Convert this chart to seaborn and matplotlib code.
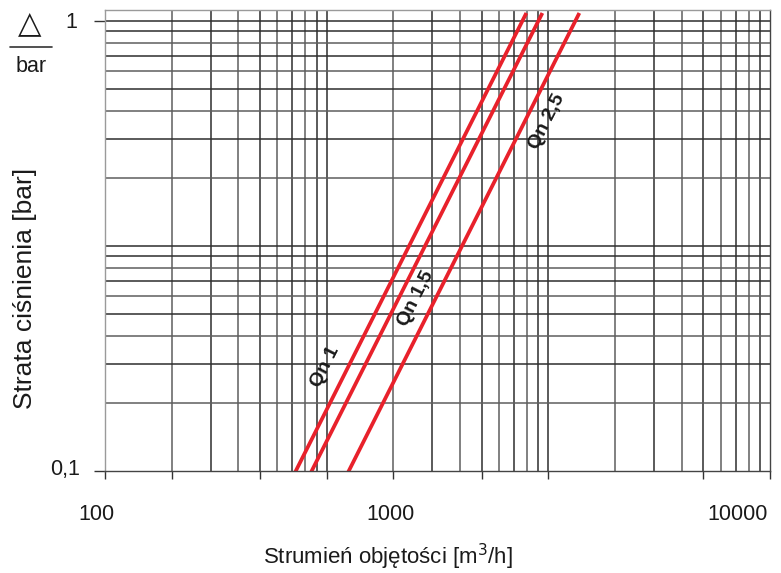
import matplotlib
matplotlib.use("Agg")
import matplotlib.pyplot as plt
import seaborn as sns
import pandas as pd
from matplotlib.lines import Line2D

# ---- data ----
series_names = ["Qn 1", "Qn 1,5", "Qn 2,5"]
flow_qn1 = [718, 7960]        # m3/h
flow_qn15 = [847, 9400]
flow_qn25 = [1245, 13800]
pressure_drop = [0.098, 10.86]  # bar, same ends for all three lines

xtick_labels = ["100", "1000", "10000"]
ytick_labels = ["0,1", "1"]

df = pd.DataFrame({
    "flow": flow_qn1 + flow_qn15 + flow_qn25,
    "dp": pressure_drop * 3,
    "series": [series_names[0]] * 2 + [series_names[1]] * 2 + [series_names[2]] * 2,
})

sns.set_style("white")
plt.rcParams["font.family"] = ["Liberation Sans", "DejaVu Sans"]

W, H = 781, 573
fig = plt.figure(figsize=(W / 100, H / 100), dpi=100)
ax = fig.add_axes([105 / W, (H - 471) / H, 665 / W, 461 / H])

red = "#e8212b"
sns.lineplot(data=df, x="flow", y="dp", hue="series", palette=[red] * 3,
             linewidth=2.7, legend=False, ax=ax, solid_capstyle="butt")

ax.set_xscale("log")
ax.set_yscale("log")
ax.set_xlim(100, 100000)
ax.set_ylim(0.1, 11.2)

# grid lines at every 1..9 multiple
gcol = "#2e2e2e"
for dec in [100, 1000, 10000]:
    for m in range(1, 10):
        v = dec * m
        if v > 100:
            ax.axvline(v, color=gcol if m % 2 else "#5e5e5e", lw=1.1, zorder=0.5)
for dec in [0.1, 1]:
    for m in range(1, 10):
        v = dec * m
        if v > 0.1:
            ax.axhline(v, color=gcol if m % 2 else "#5e5e5e", lw=1.1, zorder=0.5)
ax.axhline(10, color=gcol, lw=1.1, zorder=0.5)

for s in ax.spines.values():
    s.set_color("#444444")
    s.set_linewidth(1.0)
ax.spines["top"].set_color("#9a9a9a")
ax.spines["left"].set_color("#9a9a9a")

# tick marks (no built-in labels)
ax.set_xticks([100, 200, 500, 1000, 2000, 5000, 10000, 50000, 100000])
ax.set_xticks([], minor=True)
ax.set_xticklabels([])
ax.set_yticks([0.1, 10])
ax.set_yticks([], minor=True)
ax.set_yticklabels([])
ax.tick_params(axis="x", which="major", length=6, width=1, color="#333333", direction="out", bottom=True)
ax.tick_params(axis="y", which="major", length=8, width=1, color="#333333", direction="out", left=True)
ax.set_xlabel("")
ax.set_ylabel("")


def fx(px):
    return px / W


def fy(py):
    return 1 - py / H


txt = "#1a1a1a"
# tick label texts placed as in reference
xlab_pos = [96, 391, 738]
for lab, px in zip(xtick_labels, xlab_pos):
    fig.text(fx(px), fy(515), lab, ha="center", va="center", fontsize=15.5, color=txt)
ylab_pos = [(80, 469), (77, 22)]
for lab, (px, py) in zip(ytick_labels, ylab_pos):
    fig.text(fx(px), fy(py), lab, ha="right", va="center", fontsize=15.5, color=txt)

# axis titles
fig.text(fx(388), fy(557), "Strumień objętości [m$^3$/h]", ha="center", va="center",
         fontsize=16, color=txt)
fig.text(fx(25), fy(288), "Strata ciśnienia [bar]", ha="center", va="center",
         rotation=90, fontsize=19, color=txt)

# unit symbol top-left
fig.text(fx(30), fy(24), "△", ha="center", va="center", fontsize=22,
         family="DejaVu Sans", color=txt)
fig.add_artist(Line2D([fx(10), fx(52)], [fy(47), fy(47)], color="#333333", lw=1.2))
fig.text(fx(31), fy(67), "bar", ha="center", va="center", fontsize=15.5, color=txt)

# series labels along lines
label_pos = [(989, 0.29), (2541, 0.587), (9890, 3.56)]
for name, (xv, yv) in zip(series_names, label_pos):
    ax.text(xv, yv, name, rotation=63, rotation_mode="anchor", ha="center", va="center",
            fontsize=14, fontweight="bold", family="Liberation Sans", color=txt, zorder=5)

fig.savefig("out.png", dpi=100)
